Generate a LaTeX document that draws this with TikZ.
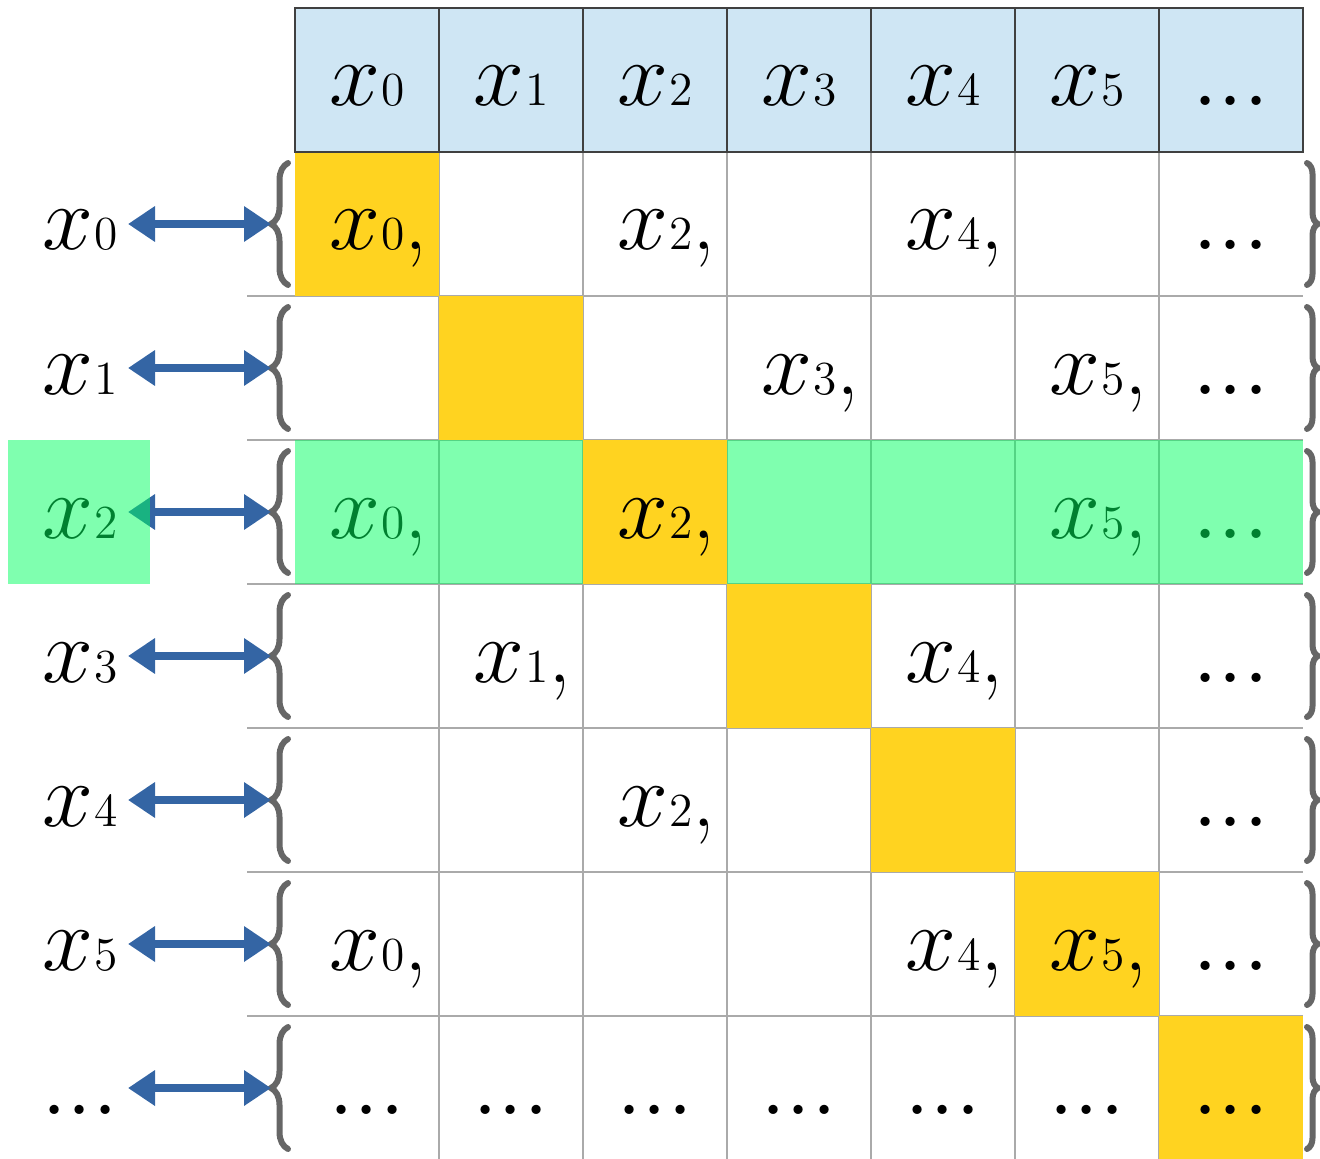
\RequirePackage{fix-cm}
\documentclass[tikz,border=0pt]{standalone}
\usepackage{fontspec}
\usepackage{tikz}
\usetikzlibrary{arrows.meta,positioning,decorations.pathreplacing}

\definecolor{hdrblue}{HTML}{CFE6F4}
\definecolor{diagyellow}{HTML}{FFD320}
\definecolor{hlgreen}{RGB}{0,255,96}
\definecolor{arrowblue}{HTML}{3465A4}
\definecolor{bracegray}{HTML}{666666}
\definecolor{gridgray}{HTML}{AAAAAA}

\newcommand{\xv}[1]{$x$\kern0.5pt{\fontsize{13.5}{15}\selectfont #1}}
\newcommand{\xc}[1]{\xv{#1}\rlap{,}}
\newcommand{\dd}{{\fontsize{32}{36}\selectfont.\kern-0.8pt.\kern-0.8pt.}}

\begin{document}
\begin{tikzpicture}[
  every node/.style={font=\fontsize{26}{30}\selectfont},
  cell/.style={rectangle, minimum width=1.44cm, minimum height=1.44cm, inner sep=0pt, outer sep=0pt, text height=0.52cm, text depth=0pt},
  head/.style={cell, draw=black!75, line width=0.6pt, fill=hdrblue},
  diag/.style={cell, fill=diagyellow},
  rowlabel/.style={cell, minimum width=0.96cm},
  gridline/.style={gridgray, line width=0.4pt},
  link/.style={arrows={Triangle[length=0.27cm,width=0.34cm]-Triangle[length=0.27cm,width=0.34cm]}, line width=0.08cm, arrowblue},
  lbrace/.style={decorate, decoration={brace, amplitude=0.17cm}, line width=0.06cm, bracegray, line cap=round},
  rbrace/.style={decorate, decoration={brace, amplitude=0.11cm}, line width=0.06cm, bracegray, line cap=round},
  highlight/.style={hlgreen, opacity=0.5}
]
\useasboundingbox (0,0) rectangle (13.2,-11.58);

% grid lines of the body
\foreach \i in {1,...,6}
  \draw[gridline] (2.47,-1.52-1.44*\i) -- (13.03,-1.52-1.44*\i);
\foreach \j in {1,...,6}
  \draw[gridline] (2.95+1.44*\j,-1.52) -- (2.95+1.44*\j,-11.60);

% diagonal cells
\foreach \i in {0,...,6}
  \node[diag] (d\i) at (3.67+1.44*\i,-2.24-1.44*\i) {};

% header row
\foreach \j/\t in {0/\xv{0},1/\xv{1},2/\xv{2},3/\xv{3},4/\xv{4},5/\xv{5},6/\dd}
  \node[head] (h\j) at (3.67+1.44*\j,-0.80) {\t};

% row labels, arrows and braces
\foreach \i/\t in {0/\xv{0},1/\xv{1},2/\xv{2},3/\xv{3},4/\xv{4},5/\xv{5},6/\dd} {
  \pgfmathsetmacro{\y}{-2.24-1.44*\i}
  \node[rowlabel] (l\i) at (0.80,\y) {\t};
  \coordinate (bt\i) at (2.71,\y);
  \draw[lbrace] (2.88,\y-0.61) -- (2.88,\y+0.61);
  \draw[rbrace] (13.07,\y+0.61) -- (13.07,\y-0.61);
  \draw[link] (l\i) -- (bt\i);
}

% cell entries
\foreach \i/\j/\t in {0/0/\xc{0},0/2/\xc{2},0/4/\xc{4},0/6/\dd,
                      1/3/\xc{3},1/5/\xc{5},1/6/\dd,
                      2/0/\xc{0},2/5/\xc{5},2/6/\dd,
                      3/1/\xc{1},3/4/\xc{4},3/6/\dd,
                      4/2/\xc{2},4/6/\dd,
                      5/0/\xc{0},5/4/\xc{4},5/5/\xc{5},5/6/\dd,
                      6/0/\dd,6/1/\dd,6/2/\dd,6/3/\dd,6/4/\dd,6/5/\dd,6/6/\dd}
  \node[cell] (c\i\j) at (3.67+1.44*\j,-2.24-1.44*\i) {\t};

% highlighted row
\fill[highlight] (2.95,-4.40) rectangle (13.03,-5.84);
\fill[highlight] (0.08,-4.40) rectangle (1.50,-5.84);
\node[diag] (c22) at (d2) {\xc{2}};
\end{tikzpicture}
\end{document}
